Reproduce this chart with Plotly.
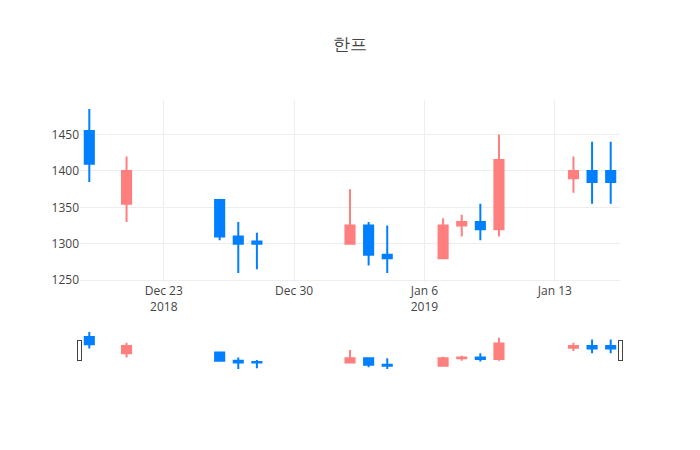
import plotly.graph_objects as go

dates = ["2018-12-19", "2018-12-21", "2018-12-26", "2018-12-27", "2018-12-28",
         "2019-01-02", "2019-01-03", "2019-01-04", "2019-01-07", "2019-01-08",
         "2019-01-09", "2019-01-10", "2019-01-14", "2019-01-15", "2019-01-16"]
open_ = [1455, 1355, 1360, 1310, 1303, 1300, 1325, 1285, 1280, 1325, 1330, 1320, 1390, 1400, 1400]
high = [1485, 1420, 1360, 1330, 1315, 1375, 1330, 1325, 1335, 1340, 1355, 1450, 1420, 1440, 1440]
low = [1385, 1330, 1305, 1260, 1265, 1300, 1270, 1260, 1280, 1310, 1305, 1310, 1370, 1355, 1355]
close = [1410, 1400, 1310, 1300, 1300, 1325, 1285, 1280, 1325, 1330, 1320, 1415, 1400, 1385, 1385]

red = "#FF7F7F"
blue = "#007FFF"

fig = go.Figure(go.Candlestick(
    x=dates, open=open_, high=high, low=low, close=close,
    increasing=dict(line=dict(color=red), fillcolor=red),
    decreasing=dict(line=dict(color=blue), fillcolor=blue),
    showlegend=False,
))
fig.update_layout(
    template="none",
    title=dict(text="한프", x=0.5, xanchor="center"),
    width=700, height=450,
    margin=dict(l=80, r=80, t=100, b=80),
    xaxis=dict(rangeslider=dict(visible=True), gridcolor="#eee"),
    yaxis=dict(gridcolor="#eee", zeroline=False),
)
fig.write_html("out.html")
